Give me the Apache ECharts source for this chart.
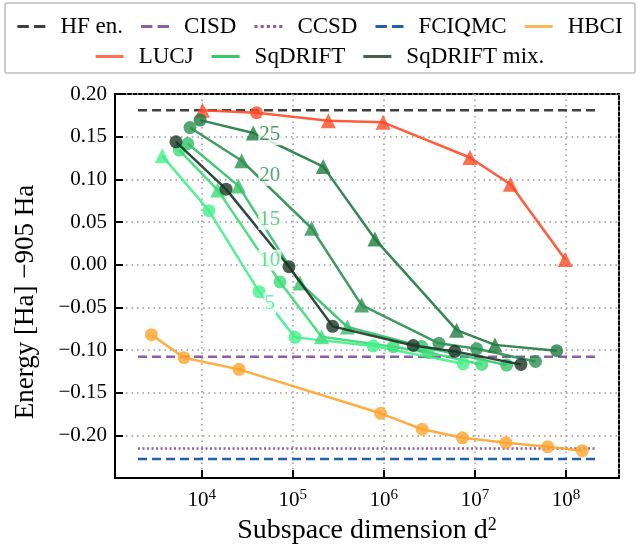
<!DOCTYPE html>
<html>
<head>
<meta charset="utf-8">
<script src="https://cdn.jsdelivr.net/npm/echarts@6/dist/echarts.min.js"></script>
<style>
  html, body { margin: 0; padding: 0; background: #fff; }
  #chart { width: 640px; height: 550px; }
</style>
</head>
<body>
<div id="chart"></div>
<script>
var serif = '"Liberation Serif", "DejaVu Serif", serif';

// reference energies (Ha, offset by -905)
var refX = [2000, 2.1e8];
var hfEnergy = 0.181;
var cisdEnergy = -0.108;
var ccsdEnergy = -0.2155;
var fciqmcEnergy = -0.2276;

var hbciX = [2800, 6400, 25700, 9.2e5, 2.64e6, 7.3e6, 2.19e7, 6.3e7, 1.51e8];
var hbciY = [-0.082, -0.109, -0.1227, -0.1742, -0.1929, -0.2029, -0.2086, -0.2135, -0.218];

var lucjX = [1.02e4, 4.0e4, 2.46e5, 9.8e5, 8.8e6, 2.45e7, 9.8e7];
var lucjY = [0.181, 0.178, 0.1687, 0.1668, 0.1256, 0.0943, 0.0061];
var lucjMark = ['t', 'c', 't', 't', 't', 't', 't'];

var mixX = [5220, 18500, 90800, 2.74e5, 2.1e6, 6.0e6, 3.2e7];
var mixY = [0.1439, 0.0885, -0.0024, -0.0723, -0.0947, -0.1016, -0.1169];

var sq25X = [9600, 36800, 2.16e5, 7.98e5, 6.3e6, 1.66e7, 7.9e7];
var sq25Y = [0.1694, 0.1542, 0.1149, 0.030, -0.0768, -0.094, -0.1009];
var sq25Mark = ['c', 't', 't', 't', 't', 't', 'c'];

var sq20X = [7440, 27500, 1.61e5, 5.7e5, 4.03e6, 1.045e7, 4.63e7];
var sq20Y = [0.1607, 0.1218, 0.0427, -0.0474, -0.0921, -0.0986, -0.1135];
var sq20Mark = ['c', 't', 't', 't', 'c', 'c', 'c'];

var sq15X = [7020, 25300, 1.2e5, 3.98e5, 2.6e6, 2.23e7];
var sq15Y = [0.142, 0.0923, -0.0214, -0.073, -0.0959, -0.1177];
var sq15Mark = ['c', 't', 't', 't', 'c', 'c'];

var sq10X = [5680, 15000, 72400, 2.07e5, 1.27e6, 3.07e6, 1.19e7];
var sq10Y = [0.1343, 0.0874, -0.0203, -0.0844, -0.0962, -0.1028, -0.117];
var sq10Mark = ['c', 't', 'c', 't', 'c', 'c', 'c'];

var sq5X = [3690, 12000, 42600, 1.06e5, 7.65e5, 7.45e6];
var sq5Y = [0.1275, 0.0633, -0.0317, -0.0852, -0.0953, -0.1162];
var sq5Mark = ['t', 'c', 'c', 'c', 'c', 'c'];

// inline labels next to the SqDRIFT curves
var tagText = ['25', '20', '15', '10', '5'];
var tagX = 56000;
var tagY = [0.1524, 0.1046, 0.053, 0.0053, -0.0455];

var sqColors = ['#1f7a40', '#2a9150', '#33c066', '#3bdc76', '#44f08a'];

function pts(xs, ys, marks) {
  var out = [];
  for (var i = 0; i < xs.length; i++) {
    var m = marks ? marks[i] : 'c';
    out.push({
      value: [xs[i], ys[i]],
      symbol: m == 't' ? 'triangle' : 'circle',
      symbolSize: m == 't' ? 15 : 13
    });
  }
  return out;
}

function refLine(name, y, color, type) {
  return {
    name: name, type: 'line', symbol: 'none', z: 1,
    data: [[refX[0], y], [refX[1], y]],
    itemStyle: { color: color },
    lineStyle: { color: color, width: 2.5, type: type }
  };
}

function dataLine(name, xs, ys, marks, color, z) {
  return {
    name: name, type: 'line', z: z || 2,
    data: pts(xs, ys, marks),
    itemStyle: { color: color, opacity: 0.8 },
    lineStyle: { color: color, width: 2.5, opacity: 0.9 }
  };
}

// legend glyphs: solid bar, dashes, dots
var barIcon = 'path://M0,0L28,0L28,3L0,3Z';
var dashIcon = 'path://M0,0h11v3h-11zM16,0h11v3h-11z';
var dotIcon = 'path://M0,0h3v3h-3zM6,0h3v3h-3zM12,0h3v3h-3zM18,0h3v3h-3zM24,0h3v3h-3z';

var chart = echarts.init(document.getElementById('chart'));

var option = {
  backgroundColor: '#fff',
  animation: false,
  graphic: [{
    type: 'rect',
    shape: { x: 5, y: 3, width: 630, height: 70, r: 2 },
    style: { fill: 'none', stroke: '#cccccc', lineWidth: 2 }
  }],
  legend: [
    {
      top: 10, left: 'center',
      itemWidth: 28, itemHeight: 14, itemGap: 18,
      textStyle: { fontFamily: serif, fontSize: 23, color: '#000', padding: [0, 0, 0, 10] },
      data: [
        { name: 'HF en.', icon: dashIcon },
        { name: 'CISD', icon: dashIcon },
        { name: 'CCSD', icon: dotIcon },
        { name: 'FCIQMC', icon: dashIcon },
        { name: 'HBCI', icon: barIcon }
      ]
    },
    {
      top: 40, left: 'center',
      itemWidth: 28, itemHeight: 14, itemGap: 18,
      textStyle: { fontFamily: serif, fontSize: 23, color: '#000', padding: [0, 0, 0, 10] },
      data: [
        { name: 'LUCJ', icon: barIcon },
        { name: 'SqDRIFT', icon: barIcon },
        { name: 'SqDRIFT mix.', icon: barIcon }
      ]
    }
  ],
  grid: {
    left: 115, right: 21, top: 94, bottom: 63,
    show: true, borderColor: '#000', borderWidth: 2
  },
  xAxis: {
    type: 'log',
    logBase: 10,
    min: 1117,
    max: 3.82e8,
    name: 'Subspace dimension d{s|2}',
    nameLocation: 'middle',
    nameGap: 38,
    nameTextStyle: {
      fontFamily: serif, fontSize: 28, color: '#000',
      rich: { s: { fontFamily: serif, fontSize: 18, padding: [0, 0, 12, 0] } }
    },
    axisLine: { onZero: false, lineStyle: { color: '#000', width: 2 } },
    axisTick: { inside: true, length: 8, lineStyle: { color: '#000', width: 2 } },
    axisLabel: {
      showMinLabel: false,
      showMaxLabel: false,
      margin: 10,
      formatter: function (v) {
        var e = Math.round(Math.log10(v));
        return '{b|10}{s|' + e + '}';
      },
      rich: {
        b: { fontFamily: serif, fontSize: 21, color: '#000' },
        s: { fontFamily: serif, fontSize: 15, color: '#000', padding: [0, 0, 10, 0] }
      }
    },
    splitLine: { show: true, lineStyle: { color: '#999', width: 1.5, type: [1.5, 4] } }
  },
  yAxis: {
    type: 'value',
    min: -0.25,
    max: 0.2,
    interval: 0.05,
    name: 'Energy [Ha] \u2212905 Ha',
    nameLocation: 'middle',
    nameRotate: 90,
    nameGap: 76,
    nameTextStyle: { fontFamily: serif, fontSize: 27, color: '#000', padding: [0, 32, 0, 0] },
    axisLine: { onZero: false, lineStyle: { color: '#000', width: 2 } },
    axisTick: { inside: true, length: 8, lineStyle: { color: '#000', width: 2 } },
    axisLabel: {
      showMinLabel: false,
      margin: 8,
      fontFamily: serif, fontSize: 21, color: '#000',
      formatter: function (v) {
        return (v < -1e-9 ? '\u2212' : '') + Math.abs(v).toFixed(2);
      }
    },
    splitLine: { show: true, lineStyle: { color: '#999', width: 1.5, type: [1.5, 4] } }
  },
  series: [
    refLine('HF en.', hfEnergy, '#404040', [9, 5]),
    refLine('CISD', cisdEnergy, '#8b5ea6', [9, 5]),
    refLine('CCSD', ccsdEnergy, '#8b5ea6', [2, 2.5]),
    refLine('FCIQMC', fciqmcEnergy, '#1f62a8', [9, 5]),
    dataLine('HBCI', hbciX, hbciY, null, '#ffa42e'),
    dataLine('LUCJ', lucjX, lucjY, lucjMark, '#ff4b26'),
    { name: 'SqDRIFT', type: 'line', data: [], itemStyle: { color: '#33cc66' }, lineStyle: { color: '#33cc66' } },
    dataLine('SqDRIFT 25', sq25X, sq25Y, sq25Mark, sqColors[0]),
    dataLine('SqDRIFT 20', sq20X, sq20Y, sq20Mark, sqColors[1]),
    dataLine('SqDRIFT 15', sq15X, sq15Y, sq15Mark, sqColors[2]),
    dataLine('SqDRIFT 10', sq10X, sq10Y, sq10Mark, sqColors[3]),
    dataLine('SqDRIFT 5', sq5X, sq5Y, sq5Mark, sqColors[4]),
    dataLine('SqDRIFT mix.', mixX, mixY, null, '#1b3626', 3),
    {
      name: 'tags', type: 'scatter', symbolSize: 0, z: 5,
      data: tagY.map(function (y, i) {
        return { value: [tagX, y], label: { color: sqColors[i] } };
      }),
      label: {
        show: true, position: 'inside',
        fontFamily: serif, fontSize: 21,
        backgroundColor: '#fff', padding: [0, 1],
        formatter: function (p) { return tagText[p.dataIndex]; }
      }
    }
  ]
};

chart.setOption(option);
</script>
</body>
</html>
